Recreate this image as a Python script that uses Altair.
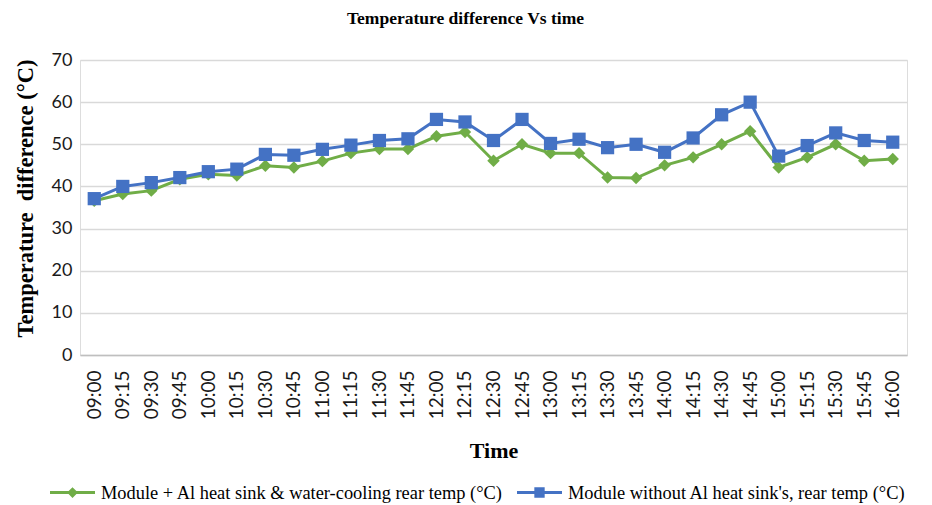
import altair as alt
import pandas as pd

times = ["09:00", "09:15", "09:30", "09:45", "10:00", "10:15", "10:30", "10:45",
         "11:00", "11:15", "11:30", "11:45", "12:00", "12:15", "12:30", "12:45",
         "13:00", "13:15", "13:30", "13:45", "14:00", "14:15", "14:30", "14:45",
         "15:00", "15:15", "15:30", "15:45", "16:00"]

with_sink = [36.6, 38.2, 39.0, 41.7, 42.9, 42.6, 44.9, 44.5, 46.0, 47.9, 48.9, 48.9,
             51.9, 52.9, 46.1, 50.0, 47.9, 47.9, 42.1, 42.0, 45.0, 46.9, 50.0, 53.1,
             44.5, 46.9, 50.0, 46.1, 46.5]

without_sink = [37.1, 40.0, 40.9, 42.1, 43.5, 44.1, 47.6, 47.4, 48.8, 49.8, 50.9, 51.3,
                55.9, 55.3, 50.9, 55.9, 50.2, 51.2, 49.2, 50.0, 48.1, 51.5, 57.0, 60.0,
                47.2, 49.7, 52.7, 50.9, 50.5]

series_names = ["Module + Al heat sink & water-cooling rear temp (°C)",
                "Module without Al heat sink's, rear temp (°C)"]
series_colors = ["#70ad47", "#4472c4"]
marker_shapes = ["diamond", "square"]
legend_shapes = [
    "M-1,-0.065L1,-0.065L1,0.065L-1,0.065Z M0,-0.24L0.24,0L0,0.24L-0.24,0Z",
    "M-1,-0.065L1,-0.065L1,0.065L-1,0.065Z M-0.23,-0.23L0.23,-0.23L0.23,0.23L-0.23,0.23Z",
]

rows = []
for t, v in zip(times, with_sink):
    rows.append({"time": t, "value": v, "series": series_names[0]})
for t, v in zip(times, without_sink):
    rows.append({"time": t, "value": v, "series": series_names[1]})
df = pd.DataFrame(rows)

x_enc = alt.X(
    "time:O", sort=times, scale=alt.Scale(padding=0.5),
    axis=alt.Axis(
        title="Time", titleFont="Liberation Serif", titleFontSize=22, titleFontWeight="bold",
        titleColor="black", titlePadding=22,
        labelAngle=-90, labelFont="Lato", labelFontSize=19, labelColor="#1a1a1a",
        labelPadding=15, ticks=False, grid=False, domain=True,
        domainColor="#bfbfbf", domainWidth=1.5,
    ),
)
y_enc = alt.Y(
    "value:Q", scale=alt.Scale(domain=[0, 70], nice=False),
    axis=alt.Axis(
        title="Temperature\u00a0 difference (°C)", titleFont="Liberation Serif",
        titleFontSize=22.5, titleFontWeight="bold", titleColor="black", titlePadding=14,
        titleY=138,
        values=list(range(0, 71, 10)), labelFont="Lato", labelFontSize=18,
        labelColor="#1a1a1a", labelPadding=8, ticks=False, domain=False,
        grid=True, gridColor="#d9d9d9", gridWidth=1.3,
    ),
)

color_scale = alt.Scale(domain=series_names, range=series_colors)

lines = alt.Chart(df).mark_line(strokeWidth=3).encode(
    x=x_enc, y=y_enc,
    color=alt.Color("series:N", scale=color_scale, legend=None),
)

points = alt.Chart(df).mark_point(filled=True, opacity=1).encode(
    x=x_enc, y=y_enc,
    color=alt.Color("series:N", scale=color_scale, legend=None),
    shape=alt.Shape("series:N", scale=alt.Scale(domain=series_names, range=marker_shapes), legend=None),
    size=alt.Size("series:N", scale=alt.Scale(domain=series_names, range=[155, 175]), legend=None),
)

legend_props = dict(
    orient="none", legendX=-30, legendY=410, direction="horizontal", title=None,
    symbolSize=2025, labelFont="Liberation Serif", labelFontSize=18.4, labelColor="black",
    symbolStrokeWidth=0, labelOffset=6, columnPadding=14, padding=0, labelLimit=600,
)

legend_layer = alt.Chart(df).mark_point(filled=True, opacity=1).encode(
    x=x_enc, y=y_enc,
    color=alt.Color("series:N", scale=color_scale, legend=alt.Legend(**legend_props)),
    shape=alt.Shape("series:N", scale=alt.Scale(domain=series_names, range=legend_shapes),
                    legend=alt.Legend(**legend_props)),
).transform_filter("false")

chart = alt.layer(lines, points, legend_layer).resolve_scale(
    color="independent", shape="independent", size="independent"
).properties(
    width=827, height=295,
    title=alt.TitleParams("Temperature difference Vs time", font="Liberation Serif",
                          fontSize=17.5, fontWeight="bold", color="black",
                          anchor="middle", dx=-28, offset=24),
    autosize=alt.AutoSizeParams(type="none"),
    padding={"left": 72, "top": 52, "right": 17, "bottom": 150},
).configure_view(stroke=None).configure(background="white")

chart.save("out.html", embed_options={"renderer": "svg", "actions": False})
